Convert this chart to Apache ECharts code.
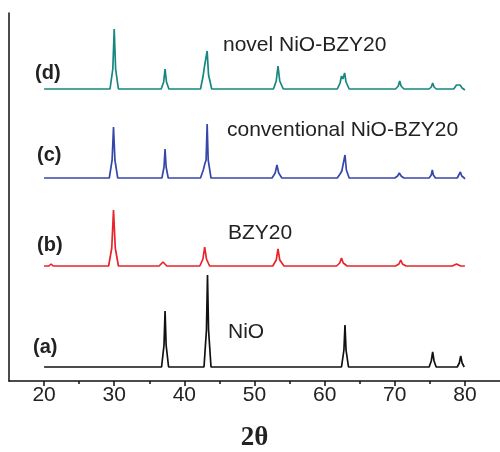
<!DOCTYPE html>
<html>
<head>
    <meta charset="utf-8">
    <script src="https://cdn.jsdelivr.net/npm/echarts@6/dist/echarts.min.js"></script>
    <style>
        html, body { margin: 0; padding: 0; background: #fff; }
        #chart { width: 500px; height: 452px; }
    </style>
</head>
<body>
    <div id="chart"></div>
    <script>
        // 2theta tick labels
        var majorTicks = [20, 30, 40, 50, 60, 70, 80];
        var minorTicks = [25, 35, 45, 55, 65, 75];

        // pattern names, colours and vertical offsets (a.u.)
        var names = ['(a)', '(b)', '(c)', '(d)'];
        var titles = ['NiO', 'BZY20', 'conventional NiO-BZY20', 'novel NiO-BZY20'];
        var colors = ['#111111', '#e8232b', '#3548a8', '#16877f'];
        var offsets = [14, 115, 203, 292];

        // [2theta, intensity]
        var patternA = [
            [20, 0],
            [36.75, 0], [37.1, 22], [37.25, 56], [37.4, 22], [37.75, 0],
            [42.8, 0], [43.15, 37], [43.3, 92], [43.45, 37], [43.8, 0],
            [62.4, 0], [62.75, 17], [62.9, 42], [63.05, 17], [63.4, 0],
            [74.9, 0], [75.2, 6], [75.4, 15], [75.6, 6], [75.9, 0],
            [78.9, 0], [79.2, 4], [79.4, 11], [79.6, 4], [79.9, 0], [80, 0]
        ];
        var patternB = [
            [20, 0], [20.7, 0], [21.0, 2], [21.3, 0],
            [29.2, 0], [29.65, 18], [29.9, 56], [30.15, 18], [30.6, 0],
            [36.4, 0], [36.95, 4], [37.5, 0],
            [42.2, 0], [42.65, 7], [42.9, 19], [43.15, 7], [43.6, 0],
            [52.6, 0], [53.1, 6], [53.35, 17], [53.6, 6], [54.2, 0],
            [61.7, 0], [62.15, 3], [62.4, 8], [62.65, 3], [63.2, 0],
            [70.1, 0], [70.6, 2], [70.85, 6], [71.1, 2], [71.6, 0],
            [78.2, 0], [78.8, 2], [79.4, 0], [80, 0]
        ];
        var patternC = [
            [20, 0],
            [29.3, 0], [29.7, 18], [29.9, 51], [30.1, 18], [30.5, 0],
            [36.8, 0], [37.1, 11], [37.25, 29], [37.4, 11], [37.7, 0],
            [42.3, 0], [42.7, 8], [42.95, 15], [43.1, 18], [43.25, 54], [43.4, 18], [43.8, 0],
            [52.5, 0], [52.95, 5], [53.2, 13], [53.45, 5], [53.9, 0],
            [61.8, 0], [62.2, 4], [62.45, 7], [62.7, 9], [62.9, 23], [63.1, 8], [63.5, 0],
            [70.0, 0], [70.4, 2], [70.65, 5], [70.9, 2], [71.3, 0],
            [74.9, 0], [75.2, 3], [75.35, 8], [75.5, 3], [75.8, 0],
            [78.9, 0], [79.15, 2], [79.35, 6], [79.55, 2], [79.9, 0], [80, -1]
        ];
        var patternD = [
            [20, 0], [20.8, 0], [21.0, 2], [21.2, 0],
            [29.4, 0], [29.8, 20], [30.0, 60], [30.2, 20], [30.6, 0],
            [32.2, 0], [32.45, 2], [32.7, 0],
            [36.7, 0], [37.05, 7], [37.25, 20], [37.45, 7], [37.8, 0],
            [42.3, 0], [42.65, 12], [42.9, 24], [43.05, 22], [43.25, 38], [43.45, 14], [43.9, 0],
            [52.7, 0], [53.1, 8], [53.35, 23], [53.6, 8], [54.1, 0],
            [61.8, 0], [62.2, 6], [62.4, 13], [62.6, 10], [62.85, 16], [63.05, 7], [63.5, 0],
            [70.1, 0], [70.5, 3], [70.7, 8], [70.9, 3], [71.3, 0],
            [74.9, 0], [75.2, 2], [75.4, 6], [75.6, 2], [75.9, 0],
            [78.4, 0], [78.8, 4], [79.0, 3], [79.3, 4], [79.6, 1], [80, -1]
        ];
        var patterns = [patternA, patternB, patternC, patternD];

        // label positions (px)
        var tagPos = [[33, 347], [37, 245], [37, 155], [35, 73]];
        var titlePos = [[228, 332], [228, 233], [227, 130], [223, 45]];

        var chart = echarts.init(document.getElementById('chart'));

        var series = patterns.map(function (p, i) {
            return {
                type: 'line',
                data: p.map(function (d) { return [d[0], d[1] + offsets[i]]; }),
                showSymbol: false,
                symbol: 'none',
                lineStyle: { color: colors[i], width: 1.7 },
                z: 4 - i,
                animation: false
            };
        });

        var graphics = [];
        names.forEach(function (n, i) {
            graphics.push({
                type: 'text', x: tagPos[i][0], y: tagPos[i][1],
                style: { text: n, font: 'bold 20px "Liberation Sans", Arial', fill: '#222', verticalAlign: 'middle' }
            });
            graphics.push({
                type: 'text', x: titlePos[i][0], y: titlePos[i][1],
                style: { text: titles[i], font: '21px "Liberation Sans", Arial', fill: '#222', verticalAlign: 'middle' }
            });
        });

        var option = {
            backgroundColor: '#fff',
            animation: false,
            grid: { left: 9, right: 0, top: 13, bottom: 71, outerBoundsMode: 'none', containLabel: false },
            xAxis: [{
                type: 'value', min: 15, max: 85,
                name: '2θ', nameLocation: 'middle', nameGap: 44,
                nameTextStyle: { fontFamily: '"Liberation Serif", serif', fontWeight: 'bold', fontSize: 27, color: '#222' },
                axisLine: { lineStyle: { color: '#111', width: 1.5 } },
                axisTick: { show: true, length: 5, customValues: majorTicks, lineStyle: { color: '#111', width: 1.5 } },
                axisLabel: { customValues: majorTicks, margin: 4, fontSize: 21, color: '#222', fontFamily: '"Liberation Sans", Arial' },
                splitLine: { show: false }
            }, {
                type: 'value', min: 15, max: 85, position: 'bottom',
                axisLine: { show: false },
                axisTick: { show: true, length: 3, customValues: minorTicks, lineStyle: { color: '#111', width: 1.5 } },
                axisLabel: { show: false },
                splitLine: { show: false }
            }],
            yAxis: {
                type: 'value', min: 0, max: 368,
                axisLine: { show: true, lineStyle: { color: '#111', width: 1.5 } },
                axisTick: { show: false },
                axisLabel: { show: false },
                splitLine: { show: false }
            },
            graphic: graphics,
            series: series
        };

        chart.setOption(option);
    </script>
</body>
</html>
